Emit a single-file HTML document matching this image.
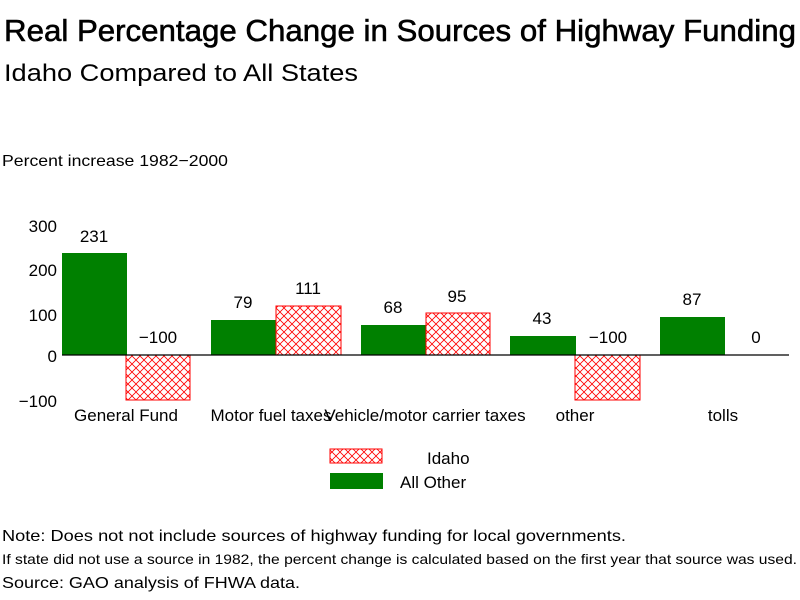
<!DOCTYPE html>
<html><head><style>body{margin:0;background:#fff}svg{display:block}text{font-family:"Liberation Sans",sans-serif;fill:#000}</style></head>
<body>
<svg width="800" height="600" viewBox="0 0 800 600" xmlns="http://www.w3.org/2000/svg">
<defs>
<pattern id="h" width="8" height="8" patternUnits="userSpaceOnUse">
<rect width="8" height="8" fill="#fff"/>
<path d="M0 0L8 8M8 0L0 8" stroke="#f00" stroke-width="0.8"/>
</pattern>
</defs>
<text x="4" y="41" font-size="31" stroke="#000" stroke-width="0.6" textLength="792" lengthAdjust="spacingAndGlyphs">Real Percentage Change in Sources of Highway Funding</text>
<text x="4" y="81" font-size="24" textLength="354" lengthAdjust="spacingAndGlyphs">Idaho Compared to All States</text>
<text x="2" y="166" font-size="16" textLength="226" lengthAdjust="spacingAndGlyphs">Percent increase 1982−2000</text>
<g font-size="17" text-anchor="end">
<text x="57" y="232">300</text><text x="57" y="276">200</text><text x="57" y="321">100</text><text x="57" y="362">0</text><text x="57" y="407">−100</text>
</g>
<rect x="62" y="253" width="65" height="102" fill="#008000"/>
<rect x="126" y="355" width="64" height="45" fill="url(#h)" stroke="#f00"/>
<rect x="211" y="320" width="65" height="35" fill="#008000"/>
<rect x="276" y="306" width="65" height="49" fill="url(#h)" stroke="#f00"/>
<rect x="361" y="325" width="65" height="30" fill="#008000"/>
<rect x="426" y="313" width="64" height="42" fill="url(#h)" stroke="#f00"/>
<rect x="510" y="336" width="66" height="19" fill="#008000"/>
<rect x="575" y="355" width="65" height="45" fill="url(#h)" stroke="#f00"/>
<rect x="660" y="317" width="65" height="38" fill="#008000"/>
<line x1="62" y1="355" x2="789" y2="355" stroke="#000" stroke-width="1.2"/>
<g font-size="17" text-anchor="middle">
<text x="94" y="242">231</text><text x="158" y="343">−100</text>
<text x="243" y="308">79</text><text x="308" y="294">111</text>
<text x="393" y="313">68</text><text x="457" y="302">95</text>
<text x="542" y="324">43</text><text x="608" y="343">−100</text>
<text x="692" y="305">87</text><text x="756" y="343">0</text>
<text x="126" y="421">General Fund</text>
<text x="271" y="421">Motor fuel taxes</text>
<text x="425" y="421">Vehicle/motor carrier taxes</text>
<text x="575" y="421">other</text>
<text x="723" y="421">tolls</text>
</g>
<rect x="330" y="449" width="52" height="14" fill="url(#h)" stroke="#f00"/>
<rect x="330" y="473" width="53" height="16" fill="#008000"/>
<text x="427" y="464" font-size="17">Idaho</text>
<text x="400" y="488" font-size="17">All Other</text>
<text x="2" y="541" font-size="16" textLength="624" lengthAdjust="spacingAndGlyphs">Note: Does not not include sources of highway funding for local governments.</text>
<text x="2" y="564" font-size="14" textLength="795" lengthAdjust="spacingAndGlyphs">If state did not use a source in 1982, the percent change is calculated based on the first year that source was used.</text>
<text x="2" y="588" font-size="16" textLength="298" lengthAdjust="spacingAndGlyphs">Source: GAO analysis of FHWA data.</text>
</svg>
</body></html>
